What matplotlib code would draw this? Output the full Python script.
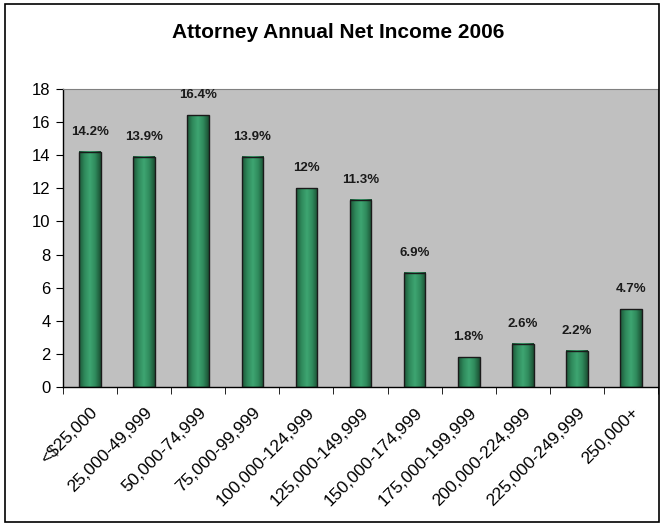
import numpy as np
import matplotlib
matplotlib.use("Agg")
import matplotlib.pyplot as plt
from matplotlib.colors import LinearSegmentedColormap
from matplotlib.patches import Rectangle

plt.rcParams['font.family'] = ['Liberation Sans', 'DejaVu Sans']

categories = ['<$25,000', '25,000-49,999', '50,000-74,999', '75,000-99,999',
              '100,000-124,999', '125,000-149,999', '150,000-174,999',
              '175,000-199,999', '200,000-224,999', '225,000-249,999', '250,000+']
values = [14.2, 13.9, 16.4, 13.9, 12.0, 11.3, 6.9, 1.8, 2.6, 2.2, 4.7]
labels = ['14.2%', '13.9%', '16.4%', '13.9%', '12%', '11.3%', '6.9%',
          '1.8%', '2.6%', '2.2%', '4.7%']

fig = plt.figure(figsize=(6.63, 5.25), dpi=100)
ax = fig.add_axes([63 / 663, 138 / 525, 595 / 663, 298 / 525])
ax.set_facecolor('#c0c0c0')

x = np.arange(len(categories))
width = 0.4
bars = ax.bar(x, values, width=width, color='none', edgecolor='#1a1a1a',
              linewidth=1.0, zorder=3)

# cylinder-like shading inside each bar
cmap = LinearSegmentedColormap.from_list(
    'cyl', ['#1d5638', '#2f8a5c', '#3ea572', '#2f8a5c', '#1b4f33'])
grad = np.linspace(0, 1, 64).reshape(1, -1)
for b in bars:
    x0, y0 = b.get_x(), b.get_y()
    w, h = b.get_width(), b.get_height()
    ax.imshow(grad, cmap=cmap, aspect='auto', extent=[x0, x0 + w, y0, y0 + h],
              zorder=2, interpolation='bilinear')

for xi, v, lab in zip(x, values, labels):
    ax.text(xi, v + 0.85, lab, ha='center', va='bottom', fontsize=9.5,
            fontweight='bold', color='#1a1a1a')

ax.set_xlim(-0.5, len(categories) - 0.5)
ax.set_ylim(0, 18)
ax.set_yticks(np.arange(0, 19, 2))
ax.tick_params(axis='y', labelsize=12, length=5, direction='out', pad=4)
ax.set_xticks(x)
ax.set_xticklabels(categories, rotation=45, ha='right', rotation_mode='anchor',
                   fontsize=12.5)
ax.tick_params(axis='x', length=0, pad=13)
ax.set_xticks(np.arange(-0.5, len(categories)), minor=True)
ax.tick_params(axis='x', which='minor', length=5, direction='out')

for s in ['top', 'right']:
    ax.spines[s].set_color('#808080')
    ax.spines[s].set_linewidth(0.8)
for s in ['left', 'bottom']:
    ax.spines[s].set_color('#000000')
    ax.spines[s].set_linewidth(1.0)

fig.text(338 / 663, 1 - 33 / 525, 'Attorney Annual Net Income 2006',
         ha='center', va='center', fontsize=15, fontweight='bold')

fig.patches.append(Rectangle((5 / 663, 3 / 525), 654 / 663, 518 / 525,
                             transform=fig.transFigure, fill=False,
                             edgecolor='black', linewidth=1.2))

fig.savefig('out.png', dpi=100)
